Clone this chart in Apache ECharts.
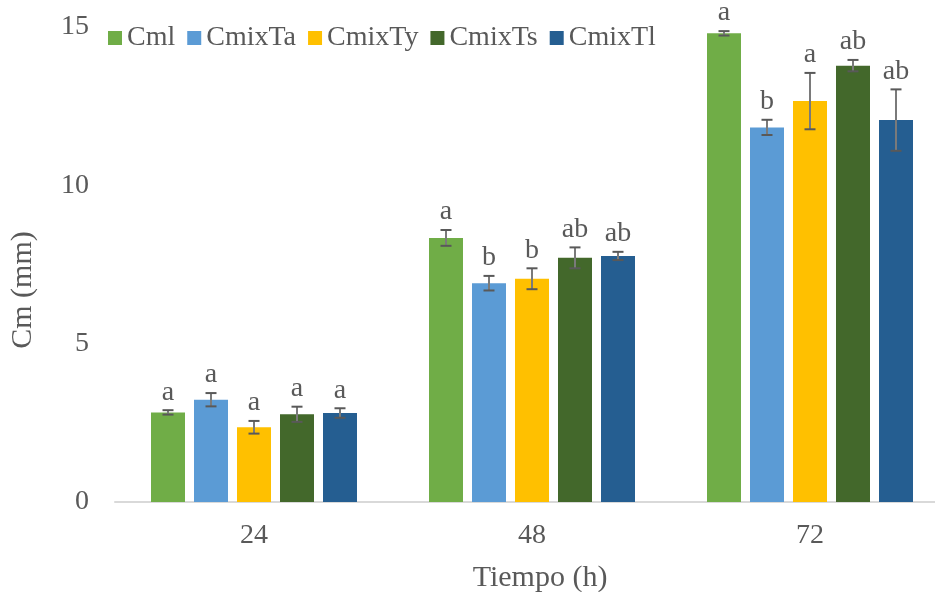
<!DOCTYPE html>
<html>
<head>
<meta charset="utf-8">
<script src="https://cdn.jsdelivr.net/npm/echarts@6/dist/echarts.min.js"></script>
<style>
  html, body { margin: 0; padding: 0; background: #fff; }
  #chart { width: 935px; height: 592px; }
</style>
</head>
<body>
<div id="chart"></div>
<script>
// categories (Tiempo, h)
const categories = ["24", "48", "72"]
const seriesNames = ["Cml", "CmixTa", "CmixTy", "CmixTs", "CmixTl"]

// bar heights (Cm, mm)
const cml = [2.83, 8.34, 14.8]
const cmixTa = [3.23, 6.91, 11.83]
const cmixTy = [2.36, 7.05, 12.66]
const cmixTs = [2.77, 7.71, 13.78]
const cmixTl = [2.81, 7.77, 12.06]

// error bar half lengths
const cmlErr = [0.07, 0.25, 0.07]
const cmixTaErr = [0.21, 0.23, 0.24]
const cmixTyErr = [0.2, 0.33, 0.89]
const cmixTsErr = [0.24, 0.33, 0.18]
const cmixTlErr = [0.15, 0.13, 0.97]

// significance letters
const cmlLetters = ["a", "a", "a"]
const cmixTaLetters = ["a", "b", "b"]
const cmixTyLetters = ["a", "b", "a"]
const cmixTsLetters = ["a", "ab", "ab"]
const cmixTlLetters = ["a", "ab", "ab"]

const yTicks = [0, 5, 10, 15]

const values = [cml, cmixTa, cmixTy, cmixTs, cmixTl]
const errors = [cmlErr, cmixTaErr, cmixTyErr, cmixTsErr, cmixTlErr]
const letters = [cmlLetters, cmixTaLetters, cmixTyLetters, cmixTsLetters, cmixTlLetters]
const colors = ["#70AD47", "#5B9BD5", "#FFC000", "#43682B", "#255E91"]

const font = '"Liberation Serif", "Times New Roman", serif'
const textColor = "#595959"
const barWidth = 34
const barGapPx = 9

const chart = echarts.init(document.getElementById("chart"))

// bars
const barSeries = seriesNames.map((name, i) => ({
  name: name,
  type: "bar",
  barWidth: barWidth,
  barGap: (barGapPx / barWidth * 100) + "%",
  itemStyle: { color: colors[i] },
  data: values[i],
}))

// error bars + letters
const errSeries = seriesNames.map((name, i) => ({
  type: "custom",
  z: 5,
  silent: true,
  data: values[i].map((v, k) => [k, v, errors[i][k]]),
  encode: { x: 0, y: 1 },
  renderItem: (params, api) => {
    const k = api.value(0)
    const v = api.value(1)
    const e = api.value(2)
    const letter = letters[i][k]
    const offset = (i - 2) * (barWidth + barGapPx)
    const x = api.coord([k, v])[0] + offset
    const yHi = api.coord([k, v + e])[1]
    const yLo = api.coord([k, v - e])[1]
    const cap = 5.5
    const st = { stroke: "#595959", lineWidth: 2 }
    return {
      type: "group",
      children: [
        { type: "line", shape: { x1: x, y1: yHi, x2: x, y2: yLo }, style: { stroke: "#7a7a7a", lineWidth: 2 } },
        { type: "line", shape: { x1: x - cap, y1: yHi, x2: x + cap, y2: yHi }, style: st },
        { type: "line", shape: { x1: x - cap, y1: yLo, x2: x + cap, y2: yLo }, style: st },
        {
          type: "text",
          style: {
            x: x,
            y: yHi - 4,
            text: letter,
            align: "center",
            verticalAlign: "bottom",
            fontFamily: font,
            fontSize: 28,
            fill: textColor,
          },
        },
      ],
    }
  },
}))

const option = {
  animation: false,
  textStyle: { fontFamily: font },
  legend: {
    data: seriesNames,
    left: 108,
    top: 24,
    padding: 0,
    itemWidth: 14,
    itemHeight: 14,
    itemGap: 12,
    icon: "rect",
    textStyle: { fontFamily: font, fontSize: 28, color: textColor },
  },
  grid: {
    left: 115,
    top: 27,
    bottom: 90,
    width: 834,
    containLabel: false,
    outerBoundsMode: "none",
  },
  xAxis: {
    type: "category",
    data: categories,
    name: "Tiempo (h)",
    nameLocation: "middle",
    nameGap: 61,
    nameTextStyle: { fontFamily: font, fontSize: 30, color: textColor, padding: [0, 0, 0, 16] },
    axisLine: { lineStyle: { color: "#D9D9D9", width: 2 } },
    axisTick: { show: false },
    axisLabel: { fontFamily: font, fontSize: 28, color: textColor, margin: 20 },
  },
  yAxis: {
    type: "value",
    min: yTicks[0],
    max: yTicks[yTicks.length - 1],
    interval: 5,
    splitLine: { show: false },
    axisLine: { show: false },
    axisTick: { show: false },
    axisLabel: { fontFamily: font, fontSize: 28, color: textColor, margin: 26 },
  },
  graphic: [
    {
      type: "text",
      x: 23,
      y: 290,
      rotation: Math.PI / 2,
      style: {
        text: "Cm (mm)",
        align: "center",
        verticalAlign: "middle",
        fontFamily: font,
        fontSize: 30,
        fill: textColor,
      },
    },
  ],
  series: [...barSeries, ...errSeries],
}

chart.setOption(option)
</script>
</body>
</html>
